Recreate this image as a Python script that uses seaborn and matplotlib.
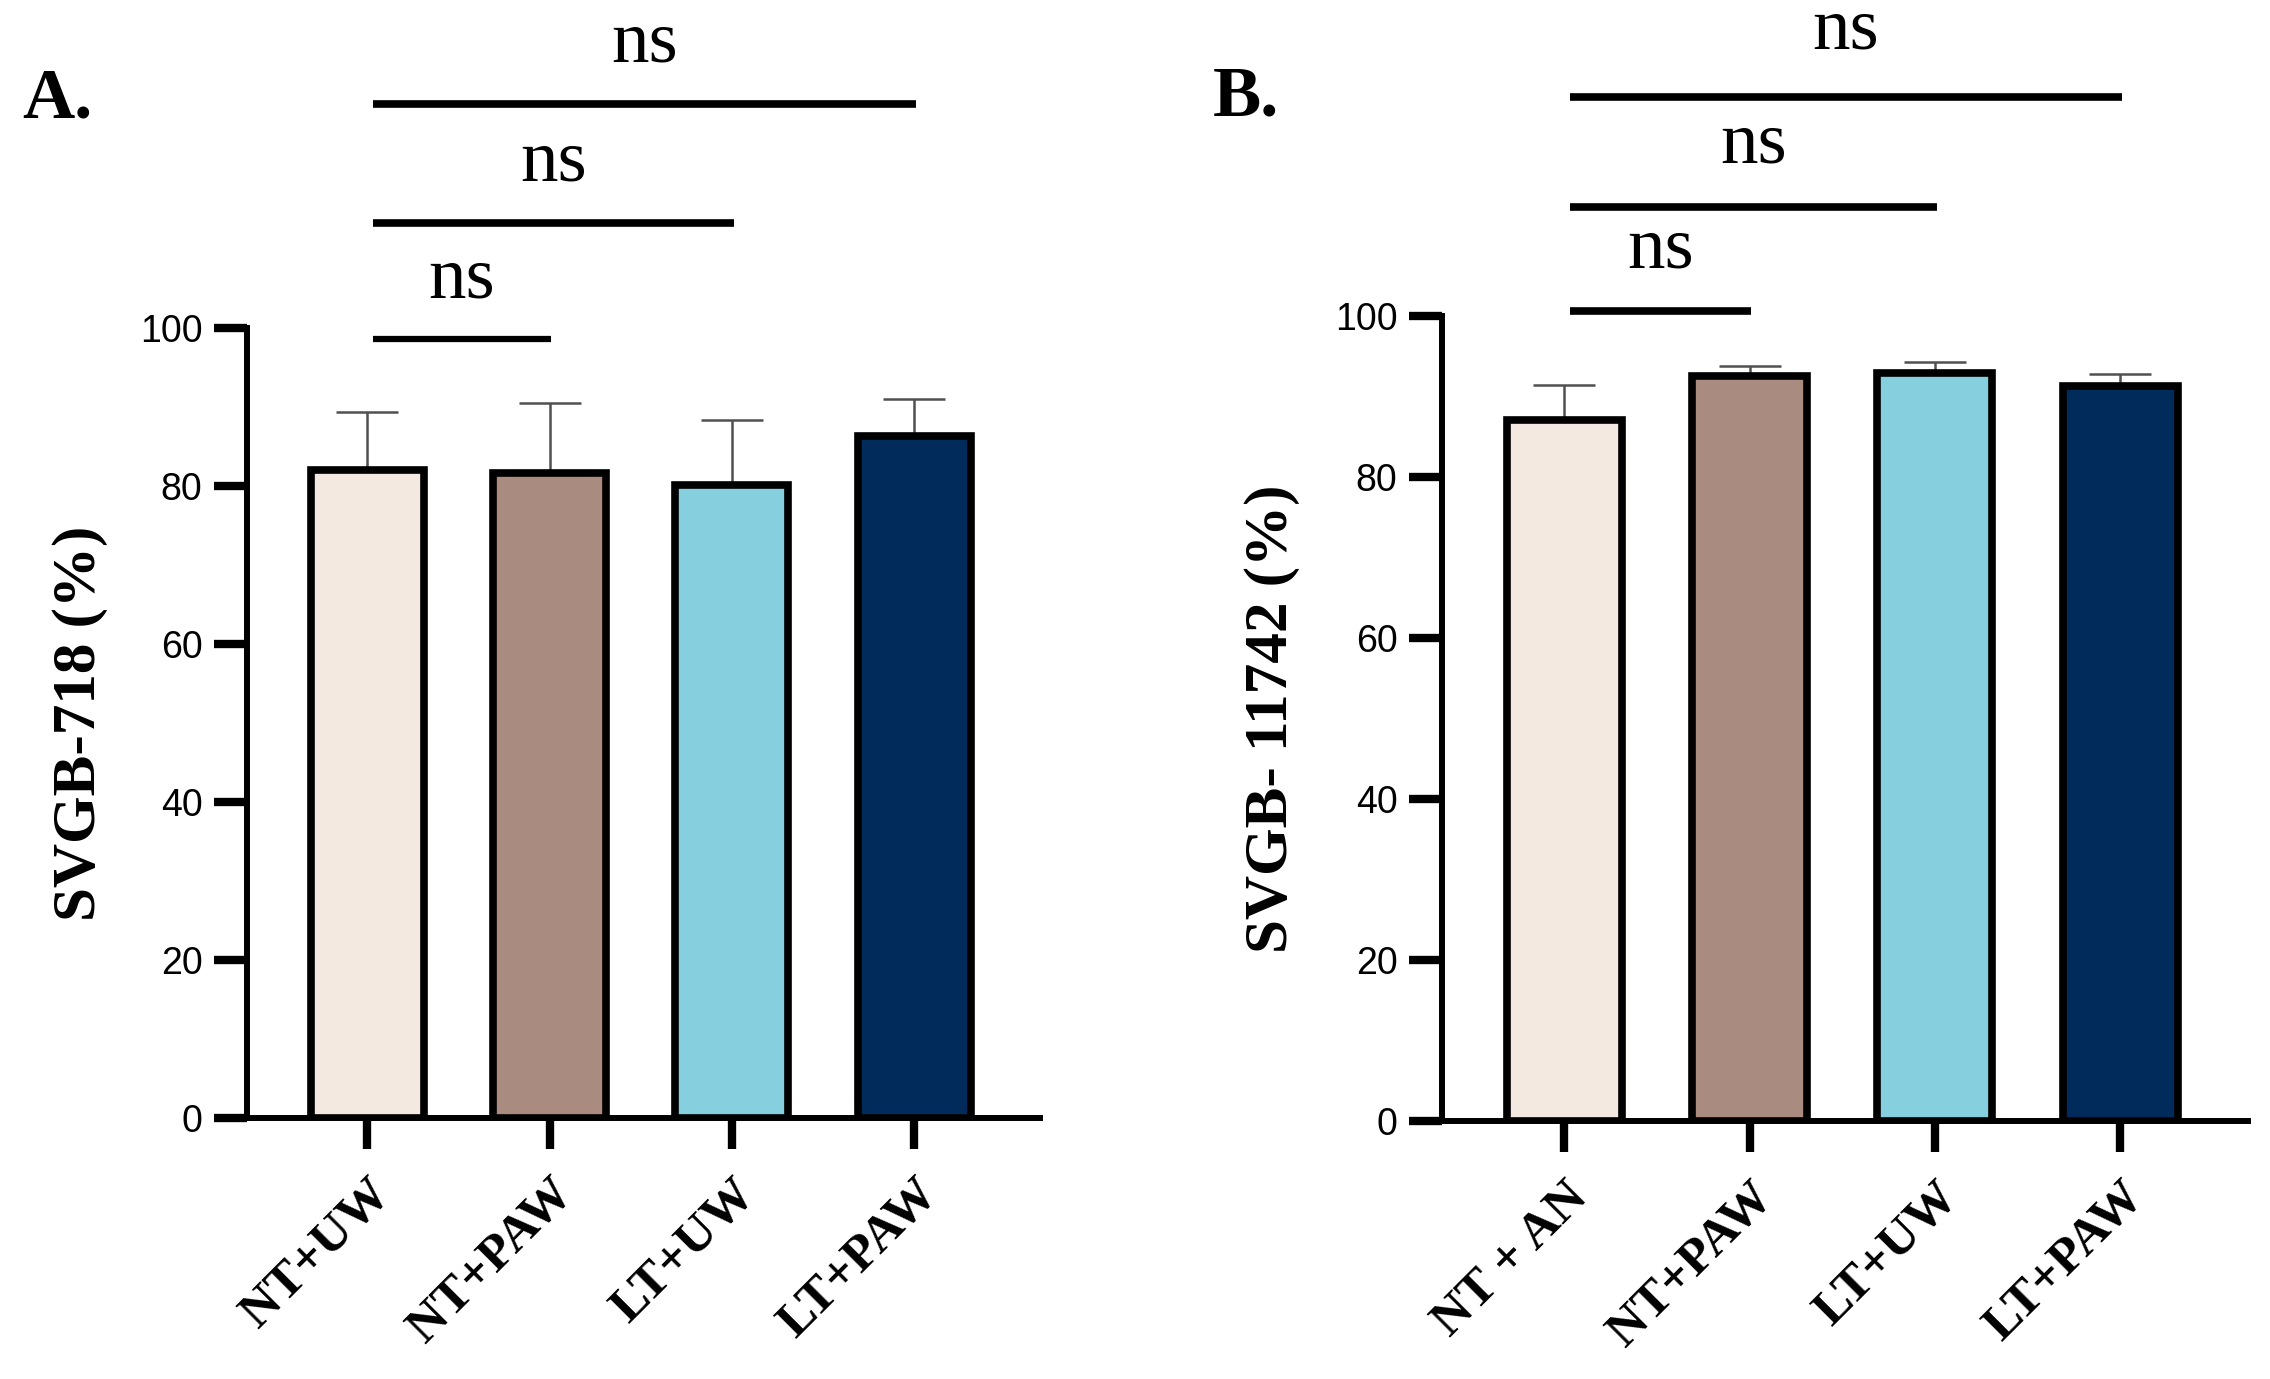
import matplotlib
matplotlib.use('Agg')
import matplotlib.pyplot as plt
import seaborn as sns
import pandas as pd

# data
groups_a = ['NT+UW', 'NT+PAW', 'LT+UW', 'LT+PAW']
means_a = [82.0, 81.6, 80.1, 86.3]
sd_a = [7.4, 8.9, 8.3, 4.7]

groups_b = ['NT + AN', 'NT+PAW', 'LT+UW', 'LT+PAW']
means_b = [87.1, 92.5, 92.9, 91.3]
sd_b = [4.3, 1.3, 1.4, 1.5]

bar_colors = ['#f3e9e0', '#a98b80', '#86cfdf', '#002b5b']

# comparisons against the first group
pairs = [(0, 1), (0, 2), (0, 3)]
sig_labels = ['ns', 'ns', 'ns']

sns.set_style('ticks')
plt.rcParams['font.family'] = ['Liberation Serif', 'DejaVu Serif']
plt.rcParams['text.color'] = 'black'
plt.rcParams['axes.labelcolor'] = 'black'
plt.rcParams['xtick.color'] = 'black'
plt.rcParams['ytick.color'] = 'black'

fig = plt.figure(figsize=(22.7, 13.79), dpi=100)
ax_a = fig.add_axes([0.1088, 0.1893, 0.3493, 0.5729])
ax_b = fig.add_axes([0.6352, 0.1871, 0.3551, 0.5837])


def draw_panel(ax, groups, means, sd, ylabel, line_y, text_y, line_w, label_x):
    df = pd.DataFrame({'group': groups, 'value': means})
    sns.barplot(data=df, x='group', y='value', hue='group', palette=bar_colors,
                saturation=1, width=0.62, edgecolor='black', linewidth=5.5,
                errorbar=None, legend=False, ax=ax, zorder=3)
    # one-sided error bars, drawn behind the bars
    ax.errorbar(range(len(groups)), means, yerr=[[0] * len(sd), sd], fmt='none',
                ecolor='#505050', elinewidth=1.8, capsize=22, capthick=1.8, zorder=2)

    ax.set_xlim(-0.66, 3.69)
    ax.set_ylim(0, 100)
    ax.set_yticks([0, 20, 40, 60, 80, 100])
    ax.set_yticklabels(['0', '20', '40', '60', '80', '100'],
                       family='Liberation Sans', fontsize=27)
    ax.set_xticks(range(len(groups)))
    ax.set_xticklabels(groups, rotation=45, ha='right', va='top',
                       rotation_mode='anchor', fontsize=37, fontweight='bold')
    ax.tick_params(axis='y', length=24, width=6, pad=8)
    ax.tick_params(axis='x', length=22, width=6, pad=16)
    sns.despine(ax=ax)
    for side in ['left', 'bottom']:
        ax.spines[side].set_linewidth(4.3)
        ax.spines[side].set_color('black')

    ax.set_xlabel('')
    ax.set_ylabel(ylabel, fontsize=44, fontweight='bold')
    ax.yaxis.set_label_coords(label_x, 0.5)

    # significance brackets
    for (i, j), lab, ly, ty, lw in zip(pairs, sig_labels, line_y, text_y, line_w):
        x0, x1 = i + 0.03, j + 0.01
        ax.plot([x0, x1], [ly, ly], color='black', lw=lw, clip_on=False,
                solid_capstyle='butt')
        ax.text((x0 + x1) / 2, ty, lab, ha='center', va='baseline', fontsize=54,
                clip_on=False)


draw_panel(ax_a, groups_a, means_a, sd_a, 'SVGB-718 (%)',
           [98.6, 113.3, 128.4], [103.9, 118.7, 133.7], [4.5, 5.5, 5.5], -0.175)
draw_panel(ax_b, groups_b, means_b, sd_b, 'SVGB- 11742 (%)',
           [100.6, 113.5, 127.2], [106.0, 119.1, 133.2], [5.5, 5.5, 5.5], -0.176)

fig.text(0.0097, 1 - 117 / 1379, 'A.', fontsize=52, fontweight='bold', va='baseline')
fig.text(0.5344, 1 - 116 / 1379, 'B.', fontsize=52, fontweight='bold', va='baseline')

fig.savefig('out.png', dpi=100)
